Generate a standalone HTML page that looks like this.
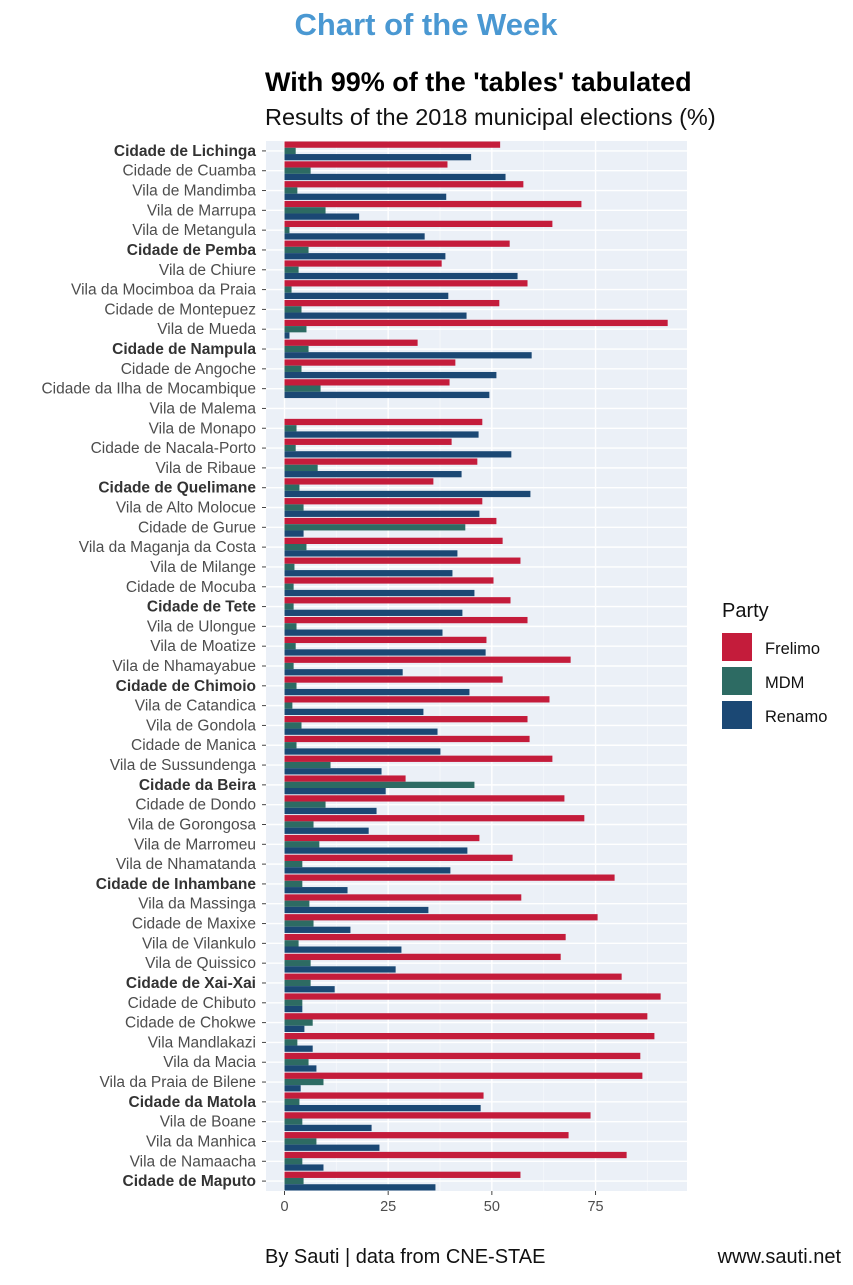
<!DOCTYPE html>
<html><head><meta charset="utf-8"><style>
body{margin:0;background:#fff;}
svg text{font-family:"Liberation Sans",Arial,sans-serif;}
</style></head><body>
<svg id="c" width="853" height="1280" xmlns="http://www.w3.org/2000/svg">
<text x="426" y="35" text-anchor="middle" font-size="31" font-weight="bold" fill="#4a98d2">Chart of the Week</text>
<text x="265" y="91" font-size="27" font-weight="bold" fill="#000">With 99% of the 'tables' tabulated</text>
<text x="265" y="125" font-size="23.5" fill="#111">Results of the 2018 municipal elections (%)</text>
<text x="265" y="1263" font-size="20" fill="#111">By Sauti | data from CNE-STAE</text>
<text x="841" y="1263" font-size="20" text-anchor="end" fill="#111">www.sauti.net</text>
<g id="plot"></g>
<g>
<text x="722" y="617" font-size="20" fill="#111">Party</text>
<rect x="722" y="633" width="30" height="28" fill="#c41c3b"/>
<text x="765" y="654" font-size="16.5" fill="#111">Frelimo</text>
<rect x="722" y="667" width="30" height="28" fill="#2d6b63"/>
<text x="765" y="688" font-size="16.5" fill="#111">MDM</text>
<rect x="722" y="701" width="30" height="28" fill="#1b4874"/>
<text x="765" y="722" font-size="16.5" fill="#111">Renamo</text>
</g>
</svg>
<script>
const categories=["Cidade de Lichinga","Cidade de Cuamba","Vila de Mandimba","Vila de Marrupa","Vila de Metangula","Cidade de Pemba","Vila de Chiure","Vila da Mocimboa da Praia","Cidade de Montepuez","Vila de Mueda","Cidade de Nampula","Cidade de Angoche","Cidade da Ilha de Mocambique","Vila de Malema","Vila de Monapo","Cidade de Nacala-Porto","Vila de Ribaue","Cidade de Quelimane","Vila de Alto Molocue","Cidade de Gurue","Vila da Maganja da Costa","Vila de Milange","Cidade de Mocuba","Cidade de Tete","Vila de Ulongue","Vila de Moatize","Vila de Nhamayabue","Cidade de Chimoio","Vila de Catandica","Vila de Gondola","Cidade de Manica","Vila de Sussundenga","Cidade da Beira","Cidade de Dondo","Vila de Gorongosa","Vila de Marromeu","Vila de Nhamatanda","Cidade de Inhambane","Vila da Massinga","Cidade de Maxixe","Vila de Vilankulo","Vila de Quissico","Cidade de Xai-Xai","Cidade de Chibuto","Cidade de Chokwe","Vila Mandlakazi","Vila da Macia","Vila da Praia de Bilene","Cidade da Matola","Vila de Boane","Vila da Manhica","Vila de Namaacha","Cidade de Maputo"];
const bold=["Cidade de Lichinga","Cidade de Pemba","Cidade de Nampula","Cidade de Quelimane","Cidade de Tete","Cidade de Chimoio","Cidade da Beira","Cidade de Inhambane","Cidade de Xai-Xai","Cidade da Matola","Cidade de Maputo"];
const frelimo=[52,39.3,57.6,71.6,64.6,54.3,37.9,58.6,51.8,92.4,32.1,41.2,39.8,0,47.7,40.3,46.5,35.9,47.7,51.1,52.6,56.9,50.4,54.5,58.6,48.7,69,52.6,63.9,58.6,59.1,64.6,29.2,67.5,72.3,47,55,79.6,57.1,75.5,67.8,66.6,81.3,90.7,87.5,89.2,85.8,86.3,48,73.8,68.5,82.5,56.9];
const mdm=[2.7,6.3,3.1,9.9,1.2,5.8,3.4,1.7,4.1,5.3,5.8,4.1,8.7,0,2.9,2.7,8,3.6,4.6,43.6,5.3,2.4,2.2,2.2,2.9,2.7,2.2,2.9,1.9,4.1,2.9,11.1,45.8,9.9,7,8.4,4.3,4.3,6,7,3.4,6.3,6.3,4.3,6.8,3.1,5.8,9.4,3.6,4.3,7.7,4.3,4.6];
const renamo=[45,53.3,39,18,33.8,38.8,56.2,39.5,43.9,1.2,59.6,51.1,49.4,0,46.8,54.7,42.7,59.3,47,4.6,41.7,40.5,45.8,42.9,38.1,48.5,28.5,44.6,33.5,36.9,37.6,23.4,24.4,22.2,20.3,44.1,40,15.2,34.7,15.9,28.2,26.8,12.1,4.3,4.8,6.8,7.7,3.9,47.3,21,22.9,9.4,36.4];
const ticks=[0,25,50,75];
const NS="http://www.w3.org/2000/svg";
const L=266,R=687,T=141,B=1191,x0=284.5,ppu=4.147;
const n=categories.length, step=(B-T)/n;
const xs=v=>x0+v*ppu;
const yc=i=>T+step*(i+0.5);
const g=document.getElementById('plot');
function mk(t,a,p){const e=document.createElementNS(NS,t);for(const k in a)e.setAttribute(k,a[k]);(p||g).appendChild(e);return e;}
const bg=mk('rect',{x:L,y:T,width:R-L,height:B-T,fill:'#ebf0f7'});


ticks.forEach(t=>{
  const mn=mk('line',{x1:xs(t+12.5),x2:xs(t+12.5),y1:T,y2:B,stroke:'#f6f8fb','stroke-width':0.8});
  
  
});
categories.forEach((c,i)=>{
  const gl=mk('line',{x1:L,x2:R,y1:yc(i),y2:yc(i),stroke:'#fff','stroke-width':1.4});
  
  
});
ticks.forEach(t=>{
  const gl=mk('line',{x1:xs(t),x2:xs(t),y1:T,y2:B,stroke:'#fff','stroke-width':1.4});
  
  
  const tk=mk('line',{x1:xs(t),x2:xs(t),y1:B,y2:B+4,stroke:'#444'});
  
  
  const tl=mk('text',{x:xs(t),y:B+20,'text-anchor':'middle','font-size':14.5,fill:'#4d4d4d'});
  tl.textContent=t;
  
  
});
const bh=step*0.95/3;
const series=[[frelimo,'#c41c3b','frelimo'],[mdm,'#2d6b63','mdm'],[renamo,'#1b4874','renamo']];
categories.forEach((c,i)=>{
  const top=yc(i)-bh*1.5;
  series.forEach((s,j)=>{
    const v=s[0][i];
    if(v>0){
      const r=mk('rect',{x:xs(0),y:top+j*bh,width:xs(v)-xs(0),height:bh,fill:s[1]});
      
      
    }
  });
  const tk=mk('line',{x1:L-4,x2:L,y1:yc(i),y2:yc(i),stroke:'#444'});
  
  
  const tl=mk('text',{x:L-10,y:yc(i)+5,'text-anchor':'end','font-size':15.5,fill:bold.includes(c)?'#333':'#4d4d4d','font-weight':bold.includes(c)?'bold':'normal'});
  tl.textContent=c;
  
  
});
</script>
</body></html>
